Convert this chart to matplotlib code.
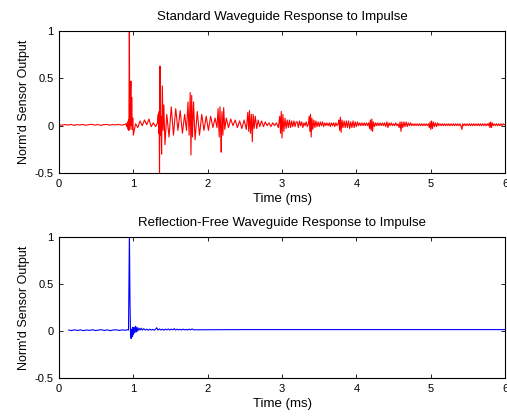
import matplotlib
matplotlib.use("Agg")
import matplotlib.pyplot as plt

plt.rcParams['font.family'] = ['Liberation Sans', 'DejaVu Sans']
plt.rcParams['font.size'] = 8

title_top = "Standard Waveguide Response to Impulse"
title_bottom = "Reflection-Free Waveguide Response to Impulse"
xlabel = "Time (ms)"
ylabel = "Norm'd Sensor Output"
xticks = [0, 1, 2, 3, 4, 5, 6]
yticks = [-0.5, 0, 0.5, 1]
ytick_labels = ["-0.5", "0", "0.5", "1"]

# Standard waveguide response: (time ms, normalized output)
std_samples = [
    (0.00, 0.010), (0.04, 0.005), (0.08, 0.012), (0.12, 0.006), (0.16, 0.014), (0.20, 0.004),
    (0.24, 0.011), (0.28, 0.007), (0.32, 0.013), (0.36, 0.005), (0.40, 0.010), (0.44, 0.015),
    (0.48, 0.006), (0.52, 0.012), (0.56, 0.004), (0.60, 0.011), (0.64, 0.013), (0.68, 0.006),
    (0.72, 0.012), (0.76, 0.008), (0.80, 0.014), (0.84, 0.006), (0.88, 0.012),
    (0.90, 0.02), (0.91, -0.01), (0.92, 0.04), (0.93, -0.04), (0.935, 0.06), (0.94, -0.05),
    (0.946, 1.05), (0.952, -0.04), (0.960, 0.20), (0.967, 0.47), (0.972, 0.00), (0.978, 0.30),
    (0.985, -0.04), (0.992, 0.08), (1.000, -0.10), (1.030, 0.02), (1.060, -0.02), (1.090, 0.05),
    (1.120, 0.00), (1.150, 0.06), (1.180, 0.01), (1.210, 0.07), (1.240, -0.01), (1.270, 0.03),
    (1.300, -0.01), (1.325, 0.03), (1.335, 0.12), (1.342, -0.08), (1.347, 0.15), (1.352, -0.55),
    (1.358, 0.63), (1.365, -0.10), (1.372, 0.10), (1.380, -0.30), (1.390, 0.42), (1.400, -0.05),
    (1.410, 0.22), (1.425, -0.20), (1.450, 0.12), (1.480, -0.12), (1.510, 0.20), (1.540, -0.10),
    (1.570, 0.18), (1.600, -0.05), (1.630, 0.16), (1.660, -0.08), (1.690, 0.12), (1.715, -0.05),
    (1.735, 0.25), (1.750, -0.10), (1.765, 0.35), (1.775, -0.31), (1.785, 0.32), (1.795, -0.12),
    (1.810, 0.25), (1.830, -0.15), (1.860, 0.15), (1.890, -0.10), (1.920, 0.12), (1.950, -0.05),
    (1.980, 0.10), (2.010, -0.05), (2.040, 0.10), (2.070, -0.02), (2.100, 0.08), (2.125, -0.02),
    (2.140, 0.18), (2.155, -0.12), (2.165, 0.20), (2.175, -0.05), (2.182, -0.28), (2.192, 0.15),
    (2.205, -0.10), (2.215, 0.19), (2.230, -0.04), (2.250, 0.08), (2.280, -0.02), (2.310, 0.07),
    (2.340, 0.00), (2.370, 0.06), (2.400, -0.02), (2.430, 0.05), (2.460, -0.03), (2.490, 0.06),
    (2.520, -0.04), (2.540, 0.14), (2.552, -0.06), (2.562, 0.16), (2.575, -0.08), (2.588, 0.12),
    (2.600, -0.17), (2.612, 0.12), (2.625, -0.03), (2.640, 0.10), (2.660, -0.03), (2.680, 0.06),
    (2.700, -0.01), (2.725, 0.05), (2.750, -0.01), (2.775, 0.04), (2.800, 0.00), (2.825, 0.03),
    (2.850, -0.01), (2.875, 0.03), (2.900, 0.00), (2.925, 0.03), (2.950, -0.02), (2.970, 0.10),
    (2.980, -0.08), (2.990, 0.15), (3.000, -0.13), (3.012, 0.12), (3.025, -0.06), (3.040, 0.08),
    (3.055, -0.03), (3.070, 0.06), (3.085, -0.02), (3.100, 0.06), (3.115, -0.02), (3.130, 0.05),
    (3.145, -0.01), (3.160, 0.05), (3.175, -0.01), (3.190, 0.04), (3.205, 0.04), (3.220, -0.02),
    (3.235, 0.05), (3.250, 0.00), (3.265, 0.04), (3.280, -0.02), (3.295, 0.03), (3.310, 0.00),
    (3.325, 0.04), (3.340, -0.01), (3.355, 0.02), (3.365, 0.10), (3.375, -0.06), (3.383, 0.12),
    (3.392, -0.12), (3.402, 0.08), (3.414, -0.04), (3.428, 0.06), (3.442, -0.02), (3.456, 0.05),
    (3.470, -0.01), (3.485, 0.04), (3.500, -0.01), (3.515, 0.04), (3.530, 0.00), (3.545, 0.04),
    (3.560, -0.01), (3.575, 0.03), (3.590, 0.00), (3.605, 0.03), (3.620, 0.00), (3.635, 0.03),
    (3.650, -0.01), (3.665, 0.03), (3.680, 0.00), (3.695, 0.03), (3.710, -0.01), (3.725, 0.03),
    (3.740, 0.00), (3.755, 0.02), (3.765, 0.06), (3.775, -0.05), (3.785, 0.09), (3.795, -0.07),
    (3.807, 0.06), (3.820, -0.02), (3.835, 0.05), (3.850, -0.02), (3.865, 0.05), (3.880, -0.02),
    (3.895, 0.05), (3.910, -0.03), (3.925, 0.04), (3.940, -0.02), (3.955, 0.05), (3.970, -0.02),
    (3.985, 0.04), (4.000, -0.01), (4.015, 0.04), (4.030, 0.00), (4.045, 0.03), (4.060, 0.00),
    (4.075, 0.03), (4.090, 0.00), (4.105, 0.03), (4.120, 0.00), (4.135, 0.03), (4.150, 0.00),
    (4.165, 0.03), (4.178, -0.03), (4.188, 0.06), (4.198, -0.05), (4.208, 0.07), (4.218, -0.06),
    (4.230, 0.04), (4.245, -0.01), (4.260, 0.03), (4.275, 0.00), (4.290, 0.03), (4.305, 0.00),
    (4.320, 0.03), (4.335, 0.00), (4.350, 0.03), (4.365, 0.00), (4.380, 0.03), (4.395, -0.01),
    (4.410, 0.04), (4.425, -0.02), (4.440, 0.03), (4.455, 0.00), (4.470, 0.03), (4.485, 0.00),
    (4.500, 0.02), (4.515, 0.00), (4.530, 0.03), (4.545, 0.00), (4.560, 0.02), (4.575, -0.02),
    (4.588, 0.04), (4.600, -0.06), (4.612, 0.04), (4.625, -0.02), (4.640, 0.04), (4.655, -0.01),
    (4.670, 0.04), (4.685, -0.01), (4.700, 0.03), (4.715, 0.00), (4.730, 0.03), (4.745, 0.00),
    (4.760, 0.02), (4.775, 0.00), (4.790, 0.02), (4.805, 0.00), (4.820, 0.02), (4.835, 0.00),
    (4.850, 0.02), (4.865, 0.00), (4.880, 0.02), (4.895, 0.00), (4.910, 0.02), (4.925, 0.00),
    (4.940, 0.02), (4.955, 0.00), (4.970, 0.02), (4.982, -0.02), (4.992, 0.04), (5.002, -0.04),
    (5.012, 0.05), (5.024, -0.03), (5.036, 0.04), (5.050, -0.01), (5.065, 0.03), (5.080, -0.01),
    (5.095, 0.03), (5.110, 0.00), (5.125, 0.02), (5.140, 0.00), (5.155, 0.02), (5.170, 0.00),
    (5.185, 0.02), (5.200, 0.00), (5.215, 0.02), (5.230, 0.00), (5.245, 0.02), (5.260, 0.00),
    (5.275, 0.02), (5.290, 0.00), (5.305, 0.02), (5.320, 0.00), (5.335, 0.02), (5.350, 0.00),
    (5.365, 0.02), (5.380, 0.00), (5.395, 0.02), (5.410, -0.01), (5.420, -0.04), (5.432, 0.02),
    (5.445, 0.00), (5.460, 0.02), (5.475, 0.00), (5.490, 0.02), (5.505, 0.00), (5.520, 0.02),
    (5.535, 0.00), (5.550, 0.02), (5.565, 0.00), (5.580, 0.02), (5.595, 0.00), (5.610, 0.02),
    (5.625, 0.00), (5.640, 0.02), (5.655, 0.00), (5.670, 0.02), (5.685, 0.00), (5.700, 0.02),
    (5.715, 0.00), (5.730, 0.02), (5.745, 0.00), (5.760, 0.02), (5.775, 0.00), (5.787, 0.03),
    (5.797, -0.02), (5.807, 0.04), (5.817, -0.02), (5.828, 0.03), (5.840, 0.00), (5.855, 0.02),
    (5.870, 0.00), (5.885, 0.02), (5.900, 0.00), (5.915, 0.02), (5.930, 0.00), (5.945, 0.02),
    (5.960, 0.00), (5.975, 0.02), (5.990, 0.01), (6.000, 0.01),
]

# Reflection-free waveguide response: (time ms, normalized output)
rf_samples = [
    (0.13, 0.010), (0.17, 0.005), (0.21, 0.013), (0.25, 0.006), (0.29, 0.012), (0.33, 0.004),
    (0.37, 0.011), (0.41, 0.007), (0.45, 0.013), (0.49, 0.005), (0.53, 0.010), (0.57, 0.014),
    (0.61, 0.006), (0.65, 0.012), (0.69, 0.004), (0.73, 0.011), (0.77, 0.013), (0.81, 0.006),
    (0.85, 0.012), (0.89, 0.008), (0.92, 0.014), (0.935, 0.010),
    (0.947, 1.05), (0.955, 0.30), (0.962, -0.02), (0.970, -0.08), (0.978, 0.02), (0.985, -0.06),
    (0.992, 0.04), (1.000, -0.04), (1.010, 0.04), (1.020, -0.02), (1.030, 0.05), (1.040, -0.01),
    (1.050, 0.04), (1.060, 0.00), (1.075, 0.03), (1.090, 0.01), (1.105, 0.03), (1.120, 0.01),
    (1.140, 0.025), (1.160, 0.010), (1.180, 0.020), (1.200, 0.008), (1.220, 0.020), (1.240, 0.010),
    (1.260, 0.018), (1.280, 0.008), (1.300, 0.020), (1.315, 0.035), (1.330, 0.010), (1.350, 0.022),
    (1.370, 0.010), (1.390, 0.020), (1.410, 0.008), (1.430, 0.020), (1.450, 0.012), (1.470, 0.022),
    (1.490, 0.010), (1.510, 0.020), (1.530, 0.012), (1.550, 0.025), (1.570, 0.010), (1.590, 0.020),
    (1.610, 0.012), (1.630, 0.018), (1.650, 0.010), (1.670, 0.020), (1.690, 0.012), (1.710, 0.018),
    (1.730, 0.010), (1.750, 0.020), (1.770, 0.012), (1.790, 0.022), (1.810, 0.013),
    (2.500, 0.015), (3.500, 0.015), (4.500, 0.015), (6.000, 0.015),
]

std_t = [p[0] for p in std_samples]
std_v = [p[1] for p in std_samples]
rf_t = [p[0] for p in rf_samples]
rf_v = [p[1] for p in rf_samples]

fig = plt.figure(figsize=(5.07, 4.16), dpi=100)
ax1 = fig.add_axes([0.1164, 0.5841, 0.8797, 0.3413])
ax2 = fig.add_axes([0.1164, 0.0913, 0.8797, 0.3390])

for ax, t, v, color, title in [
    (ax1, std_t, std_v, '#ff0000', title_top),
    (ax2, rf_t, rf_v, '#0000ff', title_bottom),
]:
    ax.plot(t, v, color=color, linewidth=0.8)
    ax.set_xlim(0, 6)
    ax.set_ylim(-0.5, 1)
    ax.set_xticks(xticks)
    ax.set_xticklabels([str(x) for x in xticks])
    ax.set_yticks(yticks)
    ax.set_yticklabels(ytick_labels)
    ax.tick_params(direction='in', top=True, right=True, length=3, width=0.6,
                   labelsize=8, pad=4)
    for s in ax.spines.values():
        s.set_linewidth(0.8)
    ax.set_title(title, fontsize=9.5, pad=8)
    ax.set_xlabel(xlabel, fontsize=9.5, labelpad=3)
    ax.set_ylabel(ylabel, fontsize=9, labelpad=3)

fig.savefig("out.png", dpi=100)
